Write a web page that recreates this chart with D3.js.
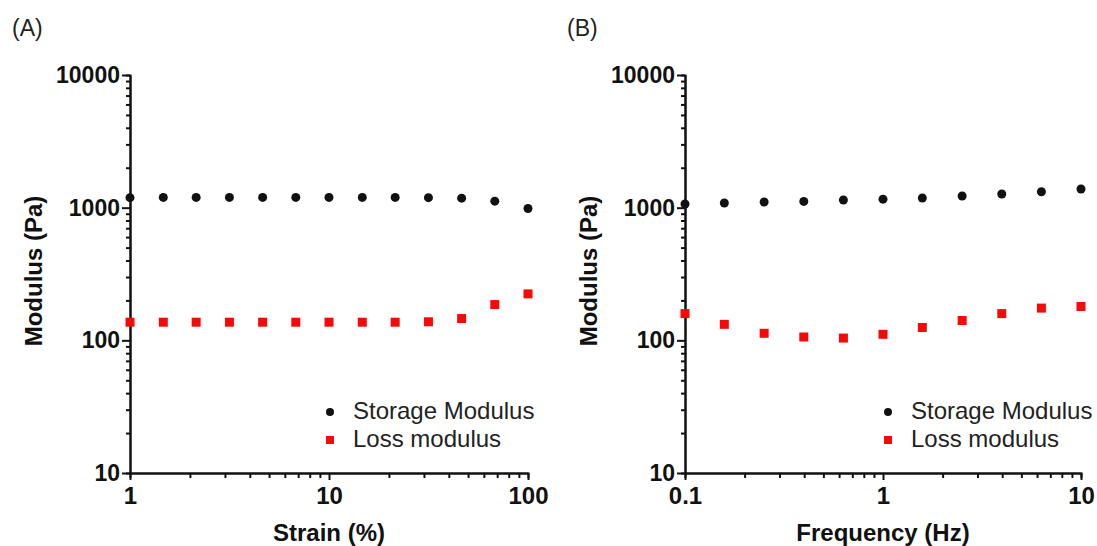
<!DOCTYPE html>
<html>
<head>
<meta charset="utf-8">
<script src="https://cdn.jsdelivr.net/npm/d3@7"></script>
<style>
  body { margin: 0; background: #fff; }
  text { font-family: "Liberation Sans", Arial, sans-serif; fill: #111; }
</style>
</head>
<body>
<script>
// panel A: strain sweep
var strain      = [1, 1.47, 2.15, 3.16, 4.64, 6.81, 10, 14.7, 21.5, 31.6, 46.4, 68.1, 100];
var storageA    = [1190, 1195, 1195, 1195, 1195, 1195, 1195, 1195, 1195, 1190, 1180, 1120, 985];
var lossA       = [137, 137, 137, 137, 137, 137, 137, 137, 137, 138, 146, 186, 224];

// panel B: frequency sweep
var frequency   = [0.1, 0.158, 0.251, 0.398, 0.631, 1, 1.58, 2.51, 3.98, 6.31, 10];
var storageB    = [1066, 1085, 1104, 1115, 1143, 1159, 1183, 1224, 1268, 1319, 1382];
var lossB       = [159, 132, 113, 106, 104, 111, 125, 141, 159, 175, 180];

var yTicks      = [10, 100, 1000, 10000];
var xTicksA     = [1, 10, 100];
var xTicksB     = [0.1, 1, 10];
var seriesNames = ["Storage Modulus", "Loss modulus"];

var W = 1097, H = 546;

var svg = d3.select("body")
    .append("svg")
    .attr("width", W)
    .attr("height", H);

function drawPanel(opt){
    var x = d3.scaleLog().domain(opt.xDomain).range([opt.left, opt.right]);
    var y = d3.scaleLog().domain([10, 10000]).range([473, 75]);

    var g = svg.append("g");

    // minor ticks first
    var yMinor = y.ticks().filter(function(v){ return yTicks.indexOf(v) < 0; });
    var xMinor = x.ticks().filter(function(v){ return opt.xTicks.indexOf(v) < 0; });

    g.append("g")
        .attr("transform", "translate(" + opt.left + ",0)")
        .call(d3.axisLeft(y).tickValues(yMinor).tickSize(4).tickFormat(""))
        .call(style, 23);
    g.append("g")
        .attr("transform", "translate(0,473)")
        .call(d3.axisBottom(x).tickValues(xMinor).tickSize(5).tickFormat(""))
        .call(style, 24);

    // major ticks + labels
    g.append("g")
        .attr("transform", "translate(" + opt.left + ",0)")
        .call(d3.axisLeft(y).tickValues(yTicks).tickSize(8).tickSizeOuter(0)
            .tickPadding(2).tickFormat(d3.format("d")))
        .call(style, 23);
    g.append("g")
        .attr("transform", "translate(0,473)")
        .call(d3.axisBottom(x).tickValues(opt.xTicks).tickSize(7).tickSizeOuter(0)
            .tickPadding(7).tickFormat(function(d){ return String(d); }))
        .call(style, 24);

    // axis titles
    g.append("text")
        .attr("transform", "translate(" + opt.yTitleX + ",271) rotate(-90)")
        .attr("text-anchor", "middle")
        .attr("dy", "0.35em")
        .style("font-size", "24px")
        .style("font-weight", "bold")
        .text("Modulus (Pa)");
    g.append("text")
        .attr("x", (opt.left + opt.right) / 2)
        .attr("y", 541)
        .attr("text-anchor", "middle")
        .style("font-size", "24px")
        .style("font-weight", "bold")
        .text(opt.xTitle);

    // panel tag
    g.append("text")
        .attr("x", opt.tagX)
        .attr("y", 36)
        .style("font-size", "23px")
        .style("fill", "#222")
        .text(opt.tag);

    // data
    var pts = opt.xs.map(function(v, i){ return { x: v, s: opt.storage[i], l: opt.loss[i] }; });

    g.selectAll(".st").data(pts).enter().append("circle")
        .attr("cx", function(d){ return x(d.x); })
        .attr("cy", function(d){ return y(d.s); })
        .attr("r", 4.5)
        .attr("fill", "#111");

    g.selectAll(".ls").data(pts).enter().append("rect")
        .attr("x", function(d){ return x(d.x) - 4.5; })
        .attr("y", function(d){ return y(d.l) - 4.5; })
        .attr("width", 9)
        .attr("height", 9)
        .attr("fill", "#f50a0a");

    // legend
    var leg = g.append("g").attr("transform", "translate(" + opt.legX + ",412)");
    leg.append("circle").attr("cx", 0).attr("cy", 0).attr("r", 4).attr("fill", "#111");
    leg.append("rect").attr("x", -4).attr("y", 24).attr("width", 8).attr("height", 8).attr("fill", "#f50a0a");
    leg.selectAll("text").data(seriesNames).enter().append("text")
        .attr("x", 23)
        .attr("y", function(d, i){ return 6.5 + i * 28; })
        .style("font-size", "24px")
        .style("fill", "#222")
        .text(function(d){ return d; });
}

function style(sel, fs){
    sel.select(".domain").attr("stroke", "#111").attr("stroke-width", 2);
    sel.selectAll(".tick line").attr("stroke", "#111").attr("stroke-width", 2);
    sel.selectAll(".tick text")
        .style("font-family", "'Liberation Sans', Arial, sans-serif")
        .style("font-size", fs + "px")
        .style("font-weight", "bold")
        .style("fill", "#111");
}

drawPanel({
    xs: strain, storage: storageA, loss: lossA,
    xDomain: [1, 100], left: 130, right: 528, xTicks: xTicksA,
    xTitle: "Strain (%)", yTitleX: 34, tag: "(A)", tagX: 12, legX: 330
});

drawPanel({
    xs: frequency, storage: storageB, loss: lossB,
    xDomain: [0.1, 10], left: 685, right: 1081, xTicks: xTicksB,
    xTitle: "Frequency (Hz)", yTitleX: 589, tag: "(B)", tagX: 567, legX: 888
});
</script>
</body>
</html>
